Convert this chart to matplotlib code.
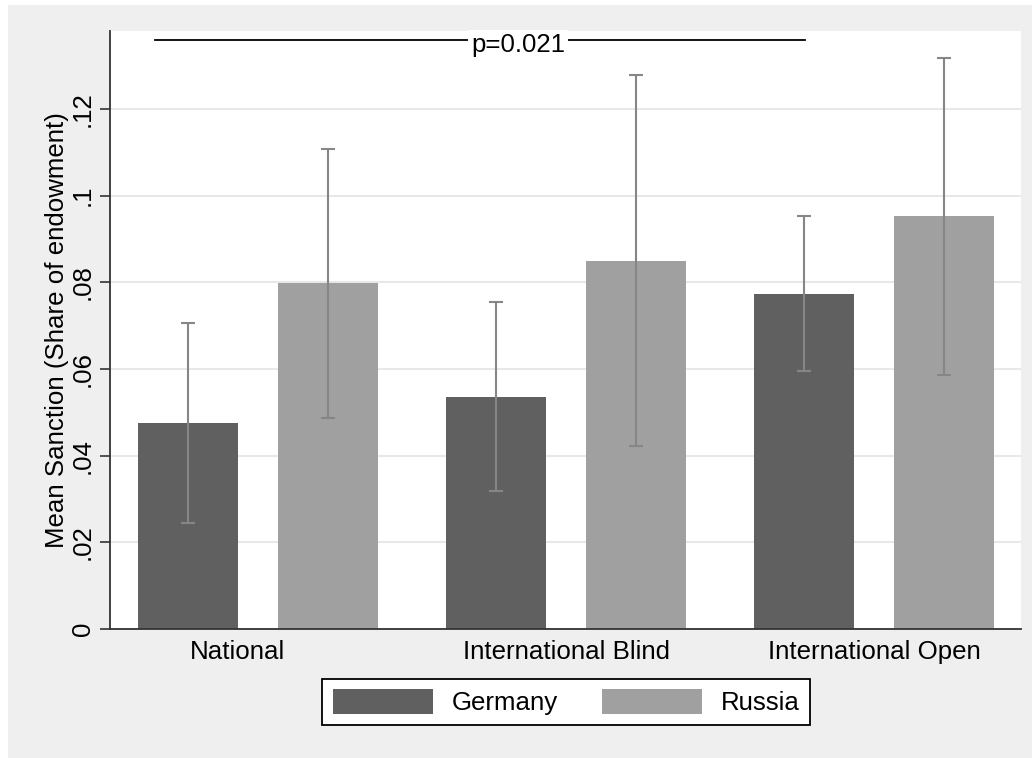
import matplotlib
matplotlib.use("Agg")
import matplotlib.pyplot as plt
import matplotlib.transforms as mtransforms
from matplotlib.patches import Rectangle
import numpy as np

categories = ["National", "International Blind", "International Open"]
series = ["Germany", "Russia"]
germany_mean = [0.0475, 0.0535, 0.0773]
germany_lo = [0.0245, 0.0318, 0.0595]
germany_hi = [0.0706, 0.0755, 0.0953]
russia_mean = [0.0798, 0.0849, 0.0953]
russia_lo = [0.0487, 0.0422, 0.0586]
russia_hi = [0.1108, 0.1279, 0.1318]
yticks = [0, 0.02, 0.04, 0.06, 0.08, 0.10, 0.12]
ytick_labels = ["0", ".02", ".04", ".06", ".08", ".1", ".12"]
p_text = "p=0.021"
p_level = 0.1359

plt.rcParams['font.family'] = ['Liberation Sans', 'DejaVu Sans']
FS = 18.6
W, H = 1032, 758
fig = plt.figure(figsize=(W / 100, H / 100), dpi=100, facecolor="white")
fig.patches.append(Rectangle((8 / W, 0), 1 - 8 / W, 1 - 5 / H, transform=fig.transFigure,
                             facecolor="#efefef", edgecolor="none", zorder=-10))

ax = fig.add_axes([110 / W, 1 - 629 / H, (1021 - 110) / W, (629 - 31) / H])
ax.set_facecolor("white")

x = np.arange(len(categories))
width = 0.3247
off = 0.2273
c_ger = "#606060"
c_rus = "#a0a0a0"
c_err = "#868686"

ax.bar(x - off, germany_mean, width, color=c_ger, label=series[0], zorder=2)
ax.bar(x + off, russia_mean, width, color=c_rus, label=series[1], zorder=2)

gm = np.array(germany_mean)
rm = np.array(russia_mean)
ax.errorbar(x - off, gm, yerr=[gm - np.array(germany_lo), np.array(germany_hi) - gm],
            fmt="none", ecolor=c_err, elinewidth=1.5, capsize=5, capthick=1.5, zorder=3)
ax.errorbar(x + off, rm, yerr=[rm - np.array(russia_lo), np.array(russia_hi) - rm],
            fmt="none", ecolor=c_err, elinewidth=1.5, capsize=5, capthick=1.5, zorder=3)

ax.set_xlim(-0.4805, 2.477)
ax.set_ylim(0, 0.138)
ax.set_yticks(yticks)
ax.set_yticklabels(ytick_labels, rotation=90, va="center", fontsize=FS)
ax.set_xticks(x)
ax.set_xticklabels(categories, fontsize=FS)
ax.tick_params(axis="x", length=0, pad=8)
ax.tick_params(axis="y", length=7, width=1.2, color="#333333", pad=4)
# Stata-like placement of the first category label
lab0 = ax.get_xticklabels()[0]
lab0.set_transform(lab0.get_transform() + mtransforms.ScaledTranslation(-0.21, 0, fig.dpi_scale_trans))
ax.grid(axis="y", color="#e8e8e8", linewidth=1.5, zorder=0)
ax.set_axisbelow(True)
for s in ["top", "right"]:
    ax.spines[s].set_visible(False)
for s in ["left", "bottom"]:
    ax.spines[s].set_color("#333333")
    ax.spines[s].set_linewidth(1.3)
ax.set_ylabel("Mean Sanction (Share of endowment)", fontsize=FS, labelpad=1)

ax.plot([-0.334, 1.776], [p_level, p_level], color="black", lw=1.3, zorder=4, clip_on=False)
ax.text(0.844, p_level - 0.0012, p_text, ha="center", va="center", fontsize=FS, zorder=5,
        bbox=dict(facecolor="white", edgecolor="none", pad=2))

fig.legend(loc="center", bbox_to_anchor=(566 / W, 1 - 702 / H), ncol=2, fontsize=FS,
           frameon=True, fancybox=False, edgecolor="black", framealpha=1,
           handlelength=3.9, handleheight=1.1, handletextpad=0.7, columnspacing=1.7,
           borderpad=0.4, borderaxespad=0)
leg = fig.legends[0]
leg.get_frame().set_linewidth(1.3)

fig.savefig("out.png", dpi=100, facecolor=fig.get_facecolor())
